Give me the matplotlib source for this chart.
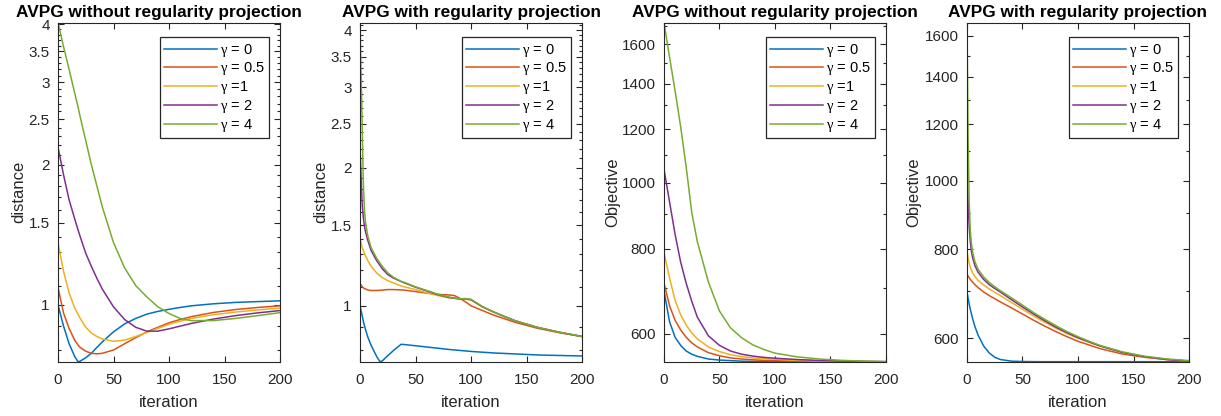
import numpy as np
import matplotlib
matplotlib.use("Agg")
import matplotlib.pyplot as plt
from matplotlib.ticker import FixedLocator, FuncFormatter, NullFormatter

plt.rcParams['font.family'] = ['Liberation Sans', 'DejaVu Sans']
plt.rcParams['mathtext.fontset'] = 'custom'
plt.rcParams['mathtext.rm'] = 'Liberation Serif'
plt.rcParams['mathtext.it'] = 'Liberation Serif'

# --- labels / styling (MATLAB default line colours) ---
GAMMA_LABELS = [r'$\gamma$ = 0', r'$\gamma$ = 0.5', r'$\gamma$ =1', r'$\gamma$ = 2', r'$\gamma$ = 4']
COLORS = ['#0072BD', '#D95319', '#EDB120', '#7E2F8E', '#77AC30']
TITLES = ['AVPG without regularity projection', 'AVPG with regularity projection',
          'AVPG without regularity projection', 'AVPG with regularity projection']
YLABELS = ['distance', 'distance', 'Objective', 'Objective']
XTICKS = [0, 50, 100, 150, 200]
DIST_TICKS = [1, 1.5, 2, 2.5, 3, 3.5, 4]
DIST_MINOR = [0.7, 0.8, 0.9, 1.1, 1.2, 1.3, 1.4, 1.6, 1.7, 1.8, 1.9, 2.1, 2.2, 2.3, 2.4,
              2.6, 2.7, 2.8, 2.9, 3.1, 3.2, 3.3, 3.4, 3.6, 3.7, 3.8, 3.9, 4.1, 4.2]
OBJ_TICKS = [600, 800, 1000, 1200, 1400, 1600]
OBJ_MINOR = [500, 700, 900, 1100, 1300, 1500, 1700]

# --- panel 1: distance, no projection ---
iter_p1 = [0, 5, 10, 15, 18, 20, 25, 30, 35, 40, 50, 60, 70, 80, 90, 100, 110, 120, 140, 160, 180, 200]
dist_noproj = [
    [1.0, 0.90, 0.825, 0.775, 0.755, 0.757, 0.77, 0.787, 0.81, 0.833, 0.875, 0.91, 0.935, 0.955,
     0.968, 0.978, 0.987, 0.995, 1.005, 1.012, 1.016, 1.02],
    [1.09, 0.96, 0.89, 0.84, 0.82, 0.81, 0.795, 0.787, 0.785, 0.787, 0.80, 0.825, 0.85, 0.875,
     0.895, 0.915, 0.930, 0.943, 0.963, 0.977, 0.987, 0.995],
    [1.36, 1.18, 1.06, 0.985, 0.955, 0.935, 0.895, 0.87, 0.855, 0.845, 0.835, 0.84, 0.855, 0.872,
     0.89, 0.908, 0.922, 0.935, 0.952, 0.965, 0.975, 0.984],
    [2.18, 1.9, 1.68, 1.53, 1.45, 1.40, 1.29, 1.21, 1.14, 1.08, 0.99, 0.93, 0.895, 0.878,
     0.878, 0.888, 0.90, 0.912, 0.932, 0.948, 0.961, 0.972],
    [4.03, 3.58, 3.2, 2.85, 2.66, 2.53, 2.25, 2.0, 1.8, 1.62, 1.36, 1.2, 1.1, 1.04,
     0.99, 0.958, 0.935, 0.925, 0.925, 0.935, 0.948, 0.962],
]

# --- panel 2: distance, with projection ---
iter_p2 = [0, 1, 2, 3, 4, 5, 7, 10, 15, 18, 20, 25, 30, 37, 40, 50, 60, 70, 80, 85, 90, 95,
           100, 110, 120, 140, 160, 180, 200]
dist_proj = [
    [1.0, 0.975, 0.95, 0.925, 0.905, 0.887, 0.855, 0.82, 0.775, 0.755, 0.758, 0.778, 0.798, 0.824,
     0.823, 0.818, 0.813, 0.808, 0.803, 0.801, 0.799, 0.797, 0.795, 0.792, 0.789, 0.785, 0.781,
     0.779, 0.777],
    [1.12, 1.11, 1.10, 1.095, 1.09, 1.088, 1.083, 1.08, 1.08, 1.081, 1.082, 1.085, 1.085, 1.083,
     1.082, 1.074, 1.066, 1.059, 1.056, 1.053, 1.038, 1.02, 1.0, 0.977, 0.955, 0.92, 0.893,
     0.873, 0.857],
    [1.41, 1.37, 1.34, 1.32, 1.30, 1.285, 1.255, 1.22, 1.18, 1.163, 1.152, 1.135, 1.122, 1.105,
     1.10, 1.085, 1.068, 1.053, 1.041, 1.038, 1.035, 1.034, 1.03, 0.995, 0.97, 0.927, 0.897,
     0.875, 0.857],
    [2.23, 1.9, 1.66, 1.56, 1.49, 1.45, 1.39, 1.32, 1.255, 1.225, 1.205, 1.17, 1.15, 1.13,
     1.122, 1.098, 1.078, 1.058, 1.043, 1.039, 1.035, 1.036, 1.031, 0.996, 0.97, 0.927, 0.897,
     0.875, 0.857],
    [4.15, 3.2, 2.45, 1.85, 1.62, 1.52, 1.42, 1.34, 1.27, 1.24, 1.22, 1.18, 1.155, 1.13,
     1.125, 1.10, 1.08, 1.06, 1.045, 1.04, 1.036, 1.037, 1.033, 0.997, 0.97, 0.927, 0.897,
     0.875, 0.857],
]

# --- panel 3: objective, no projection ---
iter_p3 = [0, 5, 10, 15, 20, 25, 30, 40, 50, 60, 70, 80, 90, 100, 120, 140, 160, 180, 200]
obj_noproj = [
    [694, 625, 593, 577, 566, 560, 556, 551, 549, 548, 547, 546.5, 546.3, 546.2, 546.1, 546, 546, 546, 546],
    [712, 660, 628, 608, 593, 582, 574, 563, 557, 553, 551, 549.5, 548.5, 548, 547, 546.5, 546.2, 546.1, 546],
    [790, 725, 672, 640, 618, 602, 590, 574, 565, 559, 555.5, 553, 551.5, 550.5, 548.5, 547.3, 546.6, 546.2, 546],
    [1047, 938, 840, 765, 712, 670, 635, 596, 577, 566, 560, 556.5, 554, 552.5, 550, 548.3, 547.2, 546.5, 546],
    [1720, 1530, 1365, 1210, 1055, 905, 820, 715, 648, 612, 592, 578, 569, 562, 555, 551, 548.5, 547, 546],
]

# --- panel 4: objective, with projection ---
iter_p4 = [0, 1, 2, 3, 4, 5, 7, 10, 15, 20, 25, 30, 40, 50, 60, 70, 80, 90, 100, 110, 120, 140,
           160, 180, 200]
obj_proj = [
    [697, 683, 670, 659, 649, 640, 624, 606, 585, 572, 564, 560, 557, 556.3, 556.1, 556, 556, 556,
     556, 556, 556, 556, 556, 556, 556],
    [738, 734, 730, 726, 723, 720, 714, 707, 697, 689, 682, 675, 662, 649, 636, 624, 613, 603,
     594, 587, 580, 570, 564, 560, 557],
    [795, 778, 765, 755, 748, 742, 733, 724, 713, 704, 696, 689, 674, 659, 645, 632, 620, 609,
     600, 592, 585, 573, 565, 560, 557],
    [1040, 930, 860, 820, 795, 780, 760, 743, 726, 714, 705, 697, 680, 664, 649, 635, 622, 611,
     601, 593, 585, 573, 565, 560, 557],
    [1669, 1150, 930, 850, 815, 795, 770, 750, 732, 719, 709, 700, 684, 668, 652, 638, 625, 613,
     603, 594, 586, 574, 566, 561, 558],
]

PANELS = [
    (iter_p1, dist_noproj, DIST_TICKS, DIST_MINOR),
    (iter_p2, dist_proj, DIST_TICKS, DIST_MINOR),
    (iter_p3, obj_noproj, OBJ_TICKS, OBJ_MINOR),
    (iter_p4, obj_proj, OBJ_TICKS, OBJ_MINOR),
]

W, H = 1221, 416
fig = plt.figure(figsize=(W / 100, H / 100), dpi=100)

lefts_px = [58, 360, 664, 967]
ylab_x = [-0.141, -0.142, -0.198, -0.205]
title_x = [0.455, 0.5, 0.5, 0.5]
axcol = '0.15'

for i, (its, series, majors, minors) in enumerate(PANELS):
    ax = fig.add_axes([lefts_px[i] / W, 54.3 / H, 222 / W, 339 / H])
    for vals, col, lab in zip(series, COLORS, GAMMA_LABELS):
        ax.plot(its, vals, color=col, lw=1.1, label=lab)

    ax.set_yscale('log')
    allv = np.concatenate([np.asarray(v, float) for v in series])
    ax.set_ylim(allv.min(), allv.max())
    ax.set_xlim(0, 200)
    ax.set_xticks(XTICKS)
    ax.yaxis.set_major_locator(FixedLocator(majors))
    ax.yaxis.set_major_formatter(FuncFormatter(lambda v, p: f'{v:g}'))
    ax.yaxis.set_minor_locator(FixedLocator(minors))
    ax.yaxis.set_minor_formatter(NullFormatter())

    ax.tick_params(which='both', direction='in', top=True, right=True, colors=axcol,
                   labelcolor=axcol, width=0.8)
    ax.tick_params(which='major', length=4, labelsize=11)
    ax.tick_params(which='minor', length=2)
    ax.tick_params(axis='x', pad=8)
    ax.tick_params(axis='y', pad=6)
    for sp in ax.spines.values():
        sp.set_color(axcol)
        sp.set_linewidth(0.8)

    ax.set_title(TITLES[i], fontsize=12.4, fontweight='bold', pad=4, x=title_x[i])
    ax.set_xlabel('iteration', fontsize=12, color=axcol)
    ax.xaxis.set_label_coords(0.5, -0.098)
    ax.set_ylabel(YLABELS[i], fontsize=12, color=axcol)
    ax.yaxis.set_label_coords(ylab_x[i], 0.5)

    leg = ax.legend(loc='upper right', bbox_to_anchor=(0.952, 0.957), borderaxespad=0,
                    fontsize=10.5, handlelength=3.6, handletextpad=0.25, labelspacing=0.12,
                    borderpad=0.3, fancybox=False, framealpha=1, edgecolor=axcol)
    leg.get_frame().set_linewidth(0.9)

fig.savefig('out.png', dpi=100)
